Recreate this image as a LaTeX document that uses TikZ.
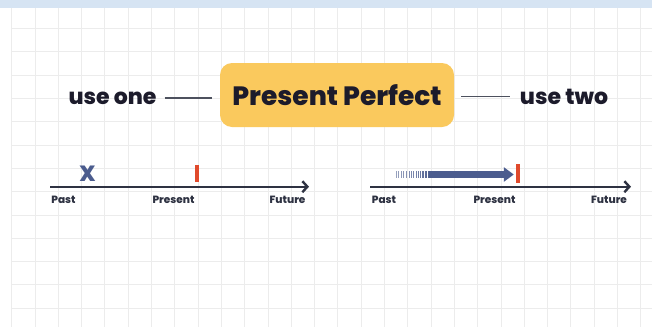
\documentclass[tikz,border=0pt]{standalone}
\usepackage{fontspec}
\setmainfont{Poppins}[BoldFont={Poppins ExtraBold}]
\usetikzlibrary{arrows.meta, positioning}
\definecolor{ink}{HTML}{1C1B2B}
\definecolor{axis}{HTML}{2E3242}
\definecolor{slate}{HTML}{4B5C8E}
\definecolor{redtick}{HTML}{E04A2C}
\definecolor{sun}{HTML}{FAC95D}
\definecolor{gridline}{HTML}{ECECEC}
\definecolor{band}{HTML}{D6E4F3}
\tikzstyle{axisarr}=[-{Straight Barb[length=5pt,width=11pt]},line width=2.4pt,color=axis]
\tikzstyle{link}=[line width=1.6pt,color=axis!85]
\tikzstyle{lbl}=[font=\fontsize{10.5}{12}\selectfont\bfseries,text=axis,inner sep=0pt]
\tikzstyle{usetext}=[font=\fontsize{22}{28}\selectfont\bfseries,text=ink,inner sep=0pt,anchor=base]
\tikzstyle{nowbar}=[fill=redtick,minimum width=4pt,inner sep=0pt]

\begin{document}
\begin{tikzpicture}[x=1pt,y=-1pt]
  \useasboundingbox (0,0) rectangle (652,327);
  % paper grid
  \fill[white] (0,0) rectangle (652,327);
  \foreach \i in {0,...,27}
    \draw[gridline,line width=1pt] ({11.7+23.3*\i},8) -- ({11.7+23.3*\i},327);
  \foreach \j in {1,...,13}
    \draw[gridline,line width=1pt] (11.7,{5.3+23.3*\j}) -- (652,{5.3+23.3*\j});
  \fill[band] (0,0) rectangle (652,8);

  % title row
  \node[fill=sun,rounded corners=12pt,minimum width=234pt,minimum height=64pt,
        font=\fontsize{26.5}{30}\selectfont\bfseries,text=ink] (pp) at (337,95) {Present Perfect};
  \node[usetext] (useone) at (112.5,104) {use one};
  \node[usetext] (usetwo) at (564,104) {use two};
  \draw[link] ([xshift=8pt]useone.east) -- ([xshift=-8pt]useone.east -| pp.west);
  \draw[link] ([xshift=7pt]usetwo.west -| pp.east) -- ([xshift=-10pt]usetwo.west);

  % use one timeline
  \coordinate (t1s) at (50,186.7);
  \coordinate (t1e) at (309,186.7);
  \draw[axisarr] (t1s) -- (t1e);
  \node[lbl] (past1) at (63.5,200) {Past};
  \node[lbl] (pres1) at (173.5,200) {Present};
  \node[lbl] (fut1) at (287.5,200) {Future};
  \node[text=slate,font=\fontsize{22}{24}\selectfont\bfseries,inner sep=0pt] (x1) at (87.5,174) {X};
  \node[nowbar,minimum height=17pt] (now1) at (196.5,173.5) {};

  % use two timeline
  \coordinate (t2s) at (370,186.7);
  \coordinate (t2e) at (631,186.7);
  \draw[axisarr] (t2s) -- (t2e);
  \node[lbl] (past2) at (384,200) {Past};
  \node[lbl] (pres2) at (494.5,200) {Present};
  \node[lbl] (fut2) at (609,200) {Future};
  \node[nowbar,minimum height=19pt] (now2) at (518,173) {};
  \coordinate (run) at (429,174.5);
  \foreach \x [count=\k] in {396,398.5,401,403.5,406,409,411,413.5,416,418,420,422,423.5,425,426.5,428}
    \draw[slate,line width=1pt,opacity={0.55+0.025*\k}] (\x,171) -- (\x,178);
  \draw[slate,line width=6.5pt,-{Triangle[length=10pt,width=14pt]},shorten >=2pt] (run) -- (run -| now2.west);
\end{tikzpicture}
\end{document}
